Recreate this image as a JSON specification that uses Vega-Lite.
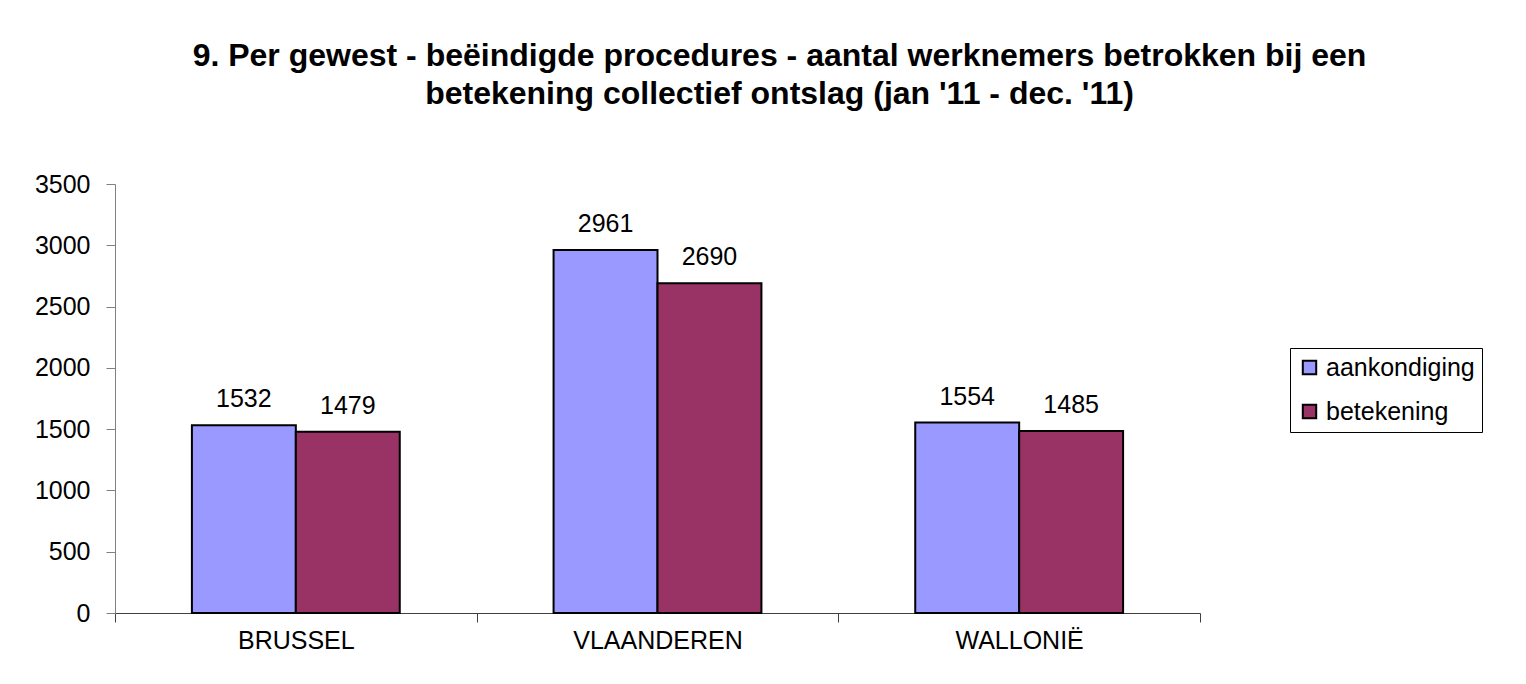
{
  "$schema": "https://vega.github.io/schema/vega-lite/v6.json",
  "width": 1085,
  "height": 429,
  "autosize": {"type": "none"},
  "padding": {"left": 115, "top": 184, "right": 326, "bottom": 71},
  "background": "white",
  "title": {
    "text": ["9. Per gewest - beëindigde procedures - aantal werknemers betrokken bij een", "betekening collectief ontslag (jan '11 - dec. '11)"],
    "font": "Liberation Sans",
    "fontSize": 32,
    "fontWeight": "bold",
    "color": "black",
    "anchor": "middle",
    "dx": 122,
    "offset": 61,
    "lineHeight": 38
  },
  "data": {
    "values": [
      {"gewest": "BRUSSEL", "type": "aankondiging", "aantal": 1532},
      {"gewest": "BRUSSEL", "type": "betekening", "aantal": 1479},
      {"gewest": "VLAANDEREN", "type": "aankondiging", "aantal": 2961},
      {"gewest": "VLAANDEREN", "type": "betekening", "aantal": 2690},
      {"gewest": "WALLONIË", "type": "aankondiging", "aantal": 1554},
      {"gewest": "WALLONIË", "type": "betekening", "aantal": 1485}
    ]
  },
  "encoding": {
    "x": {
      "field": "gewest", "type": "nominal", "sort": null,
      "scale": {"paddingInner": 0, "paddingOuter": 0},
      "axis": {
        "title": null, "labelAngle": 0, "tickBand": "extent",
        "labelFont": "Liberation Sans", "labelFontSize": 25, "labelColor": "black",
        "domainColor": "#404040", "tickColor": "#404040", "tickSize": 9,
        "labelPadding": 6
      }
    },
    "xOffset": {"field": "type", "type": "nominal", "scale": {"paddingInner": 0, "paddingOuter": 0.74}},
    "y": {
      "field": "aantal", "type": "quantitative",
      "scale": {"domain": [0, 3500]},
      "axis": {
        "title": null, "values": [0, 500, 1000, 1500, 2000, 2500, 3000, 3500], "format": "d",
        "grid": false, "labelFont": "Liberation Sans", "labelFontSize": 25, "labelColor": "black",
        "domainColor": "#808080", "tickColor": "#808080", "tickSize": 9, "labelPadding": 16
      }
    }
  },
  "layer": [
    {
      "mark": {"type": "bar", "stroke": "black", "strokeWidth": 2},
      "encoding": {
        "color": {
          "field": "type", "type": "nominal",
          "scale": {"domain": ["aankondiging", "betekening"], "range": ["#9999FF", "#993366"]},
          "legend": {
            "title": null, "orient": "none", "legendX": 1175, "legendY": 164,
            "strokeColor": "black", "padding": 7, "fillColor": "white",
            "symbolType": "square", "symbolSize": 180, "symbolStrokeColor": "black", "symbolStrokeWidth": 2,
            "labelFont": "Liberation Sans", "labelFontSize": 25, "labelColor": "black",
            "rowPadding": 18, "labelOffset": 4
          }
        }
      }
    },
    {
      "mark": {"type": "text", "baseline": "alphabetic", "dy": -18, "font": "Liberation Sans", "fontSize": 25, "color": "black"},
      "encoding": {"text": {"field": "aantal", "type": "quantitative", "format": "d"}}
    }
  ],
  "config": {"view": {"stroke": null}}
}
